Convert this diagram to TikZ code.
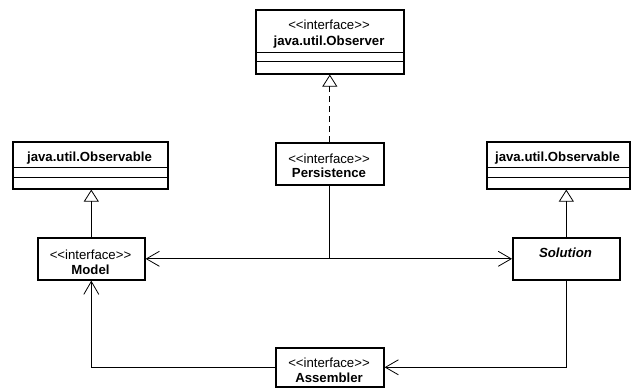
\documentclass[tikz,border=0pt]{standalone}
\usepackage{fontspec}
\setmainfont{Liberation Sans}
\usetikzlibrary{arrows.meta}
% stereotype text, kerns keep << >> from becoming guillemets
\newcommand\umlstereo[1]{<\kern0pt<#1>\kern0pt>}
\tikzset{
  umlbox/.style={draw, line width=1.6pt, fill=white, inner sep=0pt, anchor=north west},
  stereotext/.style={inner sep=0pt, anchor=base, font=\fontsize{13.2}{15}\selectfont},
  nametext/.style={inner sep=0pt, anchor=base, font=\fontsize{13.2}{15}\selectfont\bfseries},
  comp/.style={line width=0.8pt},
  gen/.style={-{Triangle[open, length=12pt, width=15pt]}, line width=0.8pt},
  nav/.style={-{Straight Barb[length=13pt, width=15pt]}, line width=0.8pt},
}
\begin{document}
\begin{tikzpicture}[x=1pt, y=-1pt]
\useasboundingbox (0,0) rectangle (632,389);

% classes
\node[umlbox, minimum width=148pt, minimum height=64pt] (observer) at (255,9) {};
\node[stereotext] (observer-st) at (329,29.5) {\umlstereo{interface}};
\node[nametext] (observer-nm) at (329,45.5) {java.util.Observer};
\draw[comp] (observer.west |- 0,52) -- (observer.east |- 0,52);
\draw[comp] (observer.west |- 0,61) -- (observer.east |- 0,61);

\node[umlbox, minimum width=155pt, minimum height=47pt] (obsL) at (12,141) {};
\node[nametext] (obsL-nm) at (89.5,161.5) {java.util.Observable};
\draw[comp] (obsL.west |- 0,167) -- (obsL.east |- 0,167);
\draw[comp] (obsL.west |- 0,177) -- (obsL.east |- 0,177);

\node[umlbox, minimum width=143pt, minimum height=47pt] (obsR) at (486,141) {};
\node[nametext] (obsR-nm) at (557.5,161.5) {java.util.Observable};
\draw[comp] (obsR.west |- 0,167) -- (obsR.east |- 0,167);
\draw[comp] (obsR.west |- 0,177) -- (obsR.east |- 0,177);

\node[umlbox, minimum width=108pt, minimum height=42pt] (persistence) at (275,142) {};
\node[stereotext] (persistence-st) at (329,163) {\umlstereo{interface}};
\node[nametext] (persistence-nm) at (329,177.5) {Persistence};

\node[umlbox, minimum width=107pt, minimum height=42pt] (model) at (37,237) {};
\node[stereotext] (model-st) at (90.5,259) {\umlstereo{interface}};
\node[nametext] (model-nm) at (90.5,274) {Model};

\node[umlbox, minimum width=107pt, minimum height=42pt] (solution) at (512,237) {};
\node[nametext] (solution-nm) at (565.5,257) {\itshape Solution};

\node[umlbox, minimum width=108pt, minimum height=39pt] (assembler) at (275,347) {};
\node[stereotext] (assembler-st) at (329,367) {\umlstereo{interface}};
\node[nametext] (assembler-nm) at (329,382) {Assembler};

% generalizations
\draw[gen, dash pattern=on 6pt off 4pt] (persistence.north) -- (observer.south);
\draw[gen] (model.north) -- (model.north |- obsL.south);
\draw[gen] (solution.north) -- (solution.north |- obsR.south);

% associations
\coordinate (join) at (persistence.south |- model.east);
\draw[line width=0.8pt] (persistence.south) -- (join);
\draw[nav] (join) -- (model.east);
\draw[nav] (join) -- (solution.west);
\draw[nav] (assembler.west) -| (model.south);
\draw[nav] (solution.south) |- (assembler.east);
\end{tikzpicture}
\end{document}
